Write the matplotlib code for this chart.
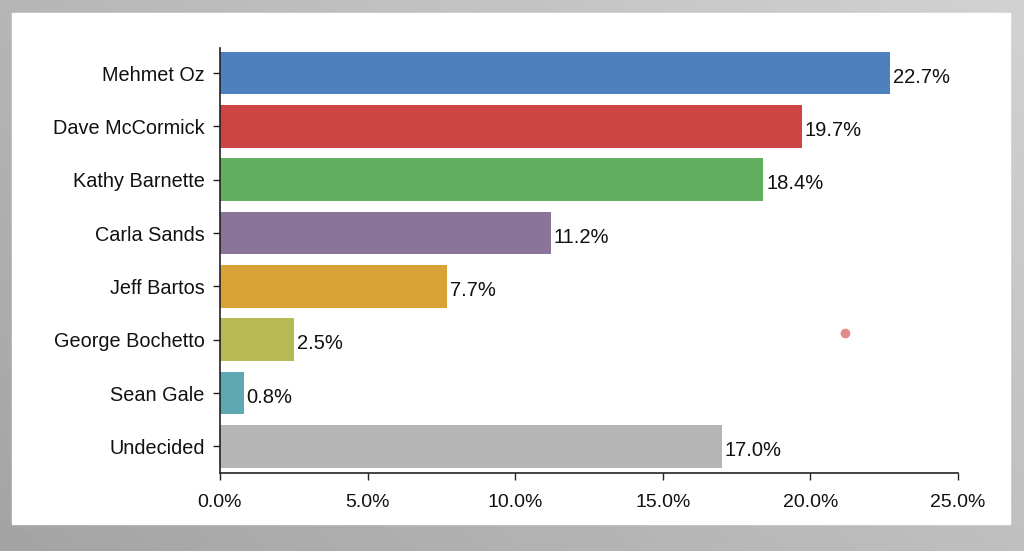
import numpy as np
import matplotlib
matplotlib.use('Agg')
import matplotlib.pyplot as plt
from matplotlib.patches import Rectangle

plt.rcParams['font.family'] = ['Liberation Sans', 'DejaVu Sans']

# data
candidates = ['Mehmet Oz', 'Dave McCormick', 'Kathy Barnette', 'Carla Sands',
              'Jeff Bartos', 'George Bochetto', 'Sean Gale', 'Undecided']
support = [22.7, 19.7, 18.4, 11.2, 7.7, 2.5, 0.8, 17.0]
bar_colors = ['#4e7fbf', '#cc4543', '#62ae5f', '#8a7499',
              '#d9a236', '#b7b955', '#5ea8b2', '#b5b5b5']
xticks = [0, 5, 10, 15, 20, 25]

fig = plt.figure(figsize=(10.24, 5.51), dpi=100)

# gray gradient background with white panel
bg = fig.add_axes([0, 0, 1, 1], zorder=-10)
gx, gy = np.meshgrid(np.linspace(0, 1, 200), np.linspace(0, 1, 120))
grad = 0.64 + 0.18 * (0.6 * gx + 0.4 * gy)
bg.imshow(grad, cmap='gray', vmin=0, vmax=1, extent=[0, 1, 0, 1],
          aspect='auto', origin='lower')
bg.add_patch(Rectangle((12 / 1024, 1 - 524 / 551), 998 / 1024, 511 / 551,
                       transform=bg.transAxes, color='white'))
# stray pink dot in the screenshot
bg.plot([845 / 1024], [1 - 333 / 551], 'o', color='#e58a8a', markersize=7,
        markeredgewidth=0)
bg.set_xlim(0, 1)
bg.set_ylim(0, 1)
bg.axis('off')

ax = fig.add_axes([220 / 1024, 1 - 473 / 551, 738 / 1024, 425 / 551])
ax.patch.set_alpha(0)
y = np.arange(len(candidates))
ax.barh(y, support, height=0.8, color=bar_colors)
for yi, v in zip(y, support):
    ax.text(v + 0.1, yi + 0.08, f'{v:.1f}%', va='center', ha='left',
            fontsize=14.5, color='#111111')

ax.set_yticks(y)
ax.set_yticklabels(candidates, fontsize=14.3, color='#111111')
ax.set_ylim(len(candidates) - 0.5, -0.47)
ax.set_xlim(0, 25)
ax.set_xticks(xticks)
ax.set_xticklabels([f'{t:.1f}%' for t in xticks], fontsize=14, color='#111111')
ax.tick_params(axis='both', direction='out', length=5, width=1, color='#222222')
ax.tick_params(axis='x', pad=10)
ax.tick_params(axis='y', pad=6)
for s in ['top', 'right']:
    ax.spines[s].set_visible(False)
for s in ['left', 'bottom']:
    ax.spines[s].set_color('#222222')
    ax.spines[s].set_linewidth(1.2)

fig.savefig('out.png', dpi=100)
